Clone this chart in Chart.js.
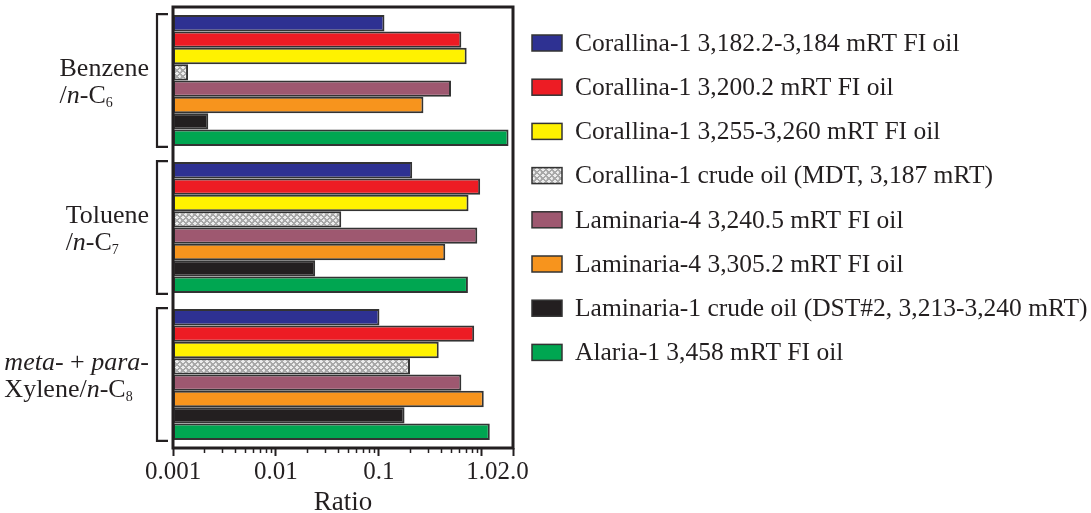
<!DOCTYPE html>
<html>
<head>
<meta charset="utf-8">
<script src="https://cdn.jsdelivr.net/npm/chart.js@4.4.0/dist/chart.umd.min.js"></script>
<style>
html, body { margin: 0; padding: 0; background: #fff; }
#wrap { width: 1091px; height: 513px; position: relative; }
</style>
</head>
<body>
<div id="wrap"><canvas id="chart"></canvas></div>
<script>
// categories (one per group of bars)
const categories = ['Benzene/n-C6', 'Toluene/n-C7', 'meta- + para-Xylene/n-C8'];

// series, values per category
const seriesNames = [
    'Corallina-1 3,182.2-3,184 mRT FI oil',
    'Corallina-1 3,200.2 mRT FI oil',
    'Corallina-1 3,255-3,260 mRT FI oil',
    'Corallina-1 crude oil (MDT, 3,187 mRT)',
    'Laminaria-4 3,240.5 mRT FI oil',
    'Laminaria-4 3,305.2 mRT FI oil',
    'Laminaria-1 crude oil (DST#2, 3,213-3,240 mRT)',
    'Alaria-1 3,458 mRT FI oil'
];
const corallina1_3182 = [0.113, 0.21, 0.101];
const corallina1_3200 = [0.63, 0.96, 0.84];
const corallina1_3255 = [0.71, 0.74, 0.38];
const corallina1_crude = [0.0014, 0.043, 0.20];
const laminaria4_3240 = [0.50, 0.90, 0.63];
const laminaria4_3305 = [0.27, 0.44, 1.04];
const laminaria1_crude = [0.0022, 0.024, 0.177];
const alaria1_3458 = [1.81, 0.73, 1.19];

// x axis ticks
const tickValues = [0.001, 0.01, 0.1, 1, 2];
const tickLabels = ['0.001', '0.01', '0.1', '1.0', '2.0'];
const minorTickValues = [0.002, 0.003, 0.004, 0.005, 0.006, 0.007, 0.008, 0.009,
    0.02, 0.03, 0.04, 0.05, 0.06, 0.07, 0.08, 0.09,
    0.2, 0.3, 0.4, 0.5, 0.6, 0.7, 0.8, 0.9];

// group labels as rich text lines (i = italic, sub = subscript)
const groupLabelLines = [
    [[{ t: 'Benzene' }], [{ t: '/' }, { t: 'n', i: true }, { t: '-C' }, { t: '6', sub: true }]],
    [[{ t: 'Toluene' }], [{ t: '/' }, { t: 'n', i: true }, { t: '-C' }, { t: '7', sub: true }]],
    [[{ t: 'meta', i: true }, { t: '- + ' }, { t: 'para', i: true }, { t: '-' }],
     [{ t: 'Xylene/' }, { t: 'n', i: true }, { t: '-C' }, { t: '8', sub: true }]]
];

const ink = '#231f20';
const serif = "'Liberation Serif', 'Times New Roman', serif";

function hatchPattern() {
    const c = document.createElement('canvas');
    c.width = 6; c.height = 6;
    const g = c.getContext('2d');
    g.fillStyle = '#a8a8a8';
    g.fillRect(0, 0, 6, 6);
    g.fillStyle = '#ececec';
    g.fillRect(2, 0, 2, 1);
    g.fillRect(1, 1, 4, 1);
    g.fillRect(2, 2, 2, 1);
    g.fillRect(5, 3, 1, 1);
    g.fillRect(4, 4, 2, 1); g.fillRect(0, 4, 1, 1);
    g.fillRect(5, 5, 1, 1);
    g.fillStyle = '#cfcfcf';
    g.fillRect(0, 3, 1, 1);
    g.fillRect(0, 5, 1, 1);
    return g.createPattern(c, 'repeat');
}

const seriesData = [corallina1_3182, corallina1_3200, corallina1_3255, corallina1_crude,
    laminaria4_3240, laminaria4_3305, laminaria1_crude, alaria1_3458];
const fills = ['#2e3192', '#ed1c24', '#fff200', hatchPattern(), '#9e5870', '#f7941d', '#231f20', '#00a651'];

const datasets = seriesNames.map((name, i) => ({
    label: name,
    data: seriesData[i],
    backgroundColor: fills[i],
    borderColor: '#333',
    borderWidth: 2,
    borderSkipped: false,
    categoryPercentage: 0.89,
    barPercentage: 1.0
}));

function drawRich(ctx, segs, x, y, size) {
    let cx = x;
    segs.forEach(s => {
        const fs = s.sub ? Math.round(size * 0.55) : size;
        ctx.font = (s.i ? 'italic ' : '') + fs + 'px ' + serif;
        ctx.fillText(s.t, cx, s.sub ? y + size * 0.28 : y);
        cx += ctx.measureText(s.t).width;
    });
    return cx - x;
}

function richWidth(ctx, segs, size) {
    let w = 0;
    segs.forEach(s => {
        const fs = s.sub ? Math.round(size * 0.55) : size;
        ctx.font = (s.i ? 'italic ' : '') + fs + 'px ' + serif;
        w += ctx.measureText(s.t).width;
    });
    return w;
}

const decor = {
    id: 'decor',
    afterDraw(chart) {
        const { ctx, chartArea: a, scales: { x, y } } = chart;
        ctx.save();

        // frame round the plot
        ctx.strokeStyle = ink;
        ctx.lineWidth = 3;
        ctx.strokeRect(a.left, a.top, a.right - a.left, a.bottom - a.top);

        // minor ticks on the log axis
        ctx.lineWidth = 1.5;
        minorTickValues.forEach(v => {
            const px = Math.round(x.getPixelForValue(v)) + 0.5;
            ctx.beginPath();
            ctx.moveTo(px, a.bottom);
            ctx.lineTo(px, a.bottom + 5);
            ctx.stroke();
        });

        // brackets and group labels
        const step = y.getPixelForValue(1) - y.getPixelForValue(0);
        const half = step * 0.89 / 2;
        ctx.fillStyle = ink;
        ctx.textBaseline = 'middle';
        ctx.textAlign = 'left';
        categories.forEach((c, i) => {
            const cy = y.getPixelForValue(i);
            ctx.lineWidth = 2.2;
            ctx.beginPath();
            ctx.moveTo(168, cy - half - 1);
            ctx.lineTo(157, cy - half - 1);
            ctx.lineTo(157, cy + half + 1);
            ctx.lineTo(168, cy + half + 1);
            ctx.stroke();

            const lines = groupLabelLines[i];
            const w = Math.max(...lines.map(l => richWidth(ctx, l, 26)));
            const lx = 149 - w;
            drawRich(ctx, lines[0], lx, cy - 11, 26);
            drawRich(ctx, lines[1], lx, cy + 16, 26);
        });

        // legend
        chart.data.datasets.forEach((d, i) => {
            const cy = 43 + i * 44.2;
            ctx.fillStyle = d.backgroundColor;
            ctx.fillRect(532, cy - 8, 30, 16);
            ctx.strokeStyle = '#333';
            ctx.lineWidth = 1.5;
            ctx.strokeRect(532, cy - 8, 30, 16);
            ctx.fillStyle = ink;
            ctx.font = '25.5px ' + serif;
            ctx.fillText(d.label, 575, cy + 1);
        });

        ctx.restore();
    }
};

new Chart(document.getElementById('chart'), {
    type: 'bar',
    data: { labels: categories, datasets: datasets },
    options: {
        indexAxis: 'y',
        responsive: true,
        maintainAspectRatio: false,
        animation: false,
        layout: { padding: { left: 173, top: 7, right: 578, bottom: 0 } },
        plugins: {
            legend: { display: false },
            tooltip: { enabled: false }
        },
        scales: {
            x: {
                type: 'logarithmic',
                min: 0.001,
                max: 2,
                afterBuildTicks: s => { s.ticks = tickValues.map(v => ({ value: v })); },
                afterFit: s => { s.height = 65; },
                border: { display: false },
                grid: {
                    drawOnChartArea: false,
                    drawTicks: true,
                    tickLength: 8,
                    tickWidth: 2,
                    tickColor: ink
                },
                ticks: {
                    autoSkip: false,
                    maxRotation: 0,
                    padding: 1,
                    color: ink,
                    font: { family: serif, size: 25 },
                    callback: (v) => tickLabels[tickValues.indexOf(v)]
                },
                title: {
                    display: true,
                    text: 'Ratio',
                    color: ink,
                    font: { family: serif, size: 27 },
                    padding: { top: 0, bottom: -6 }
                }
            },
            y: {
                display: false,
                type: 'category'
            }
        }
    },
    plugins: [decor]
});
</script>
</body>
</html>
